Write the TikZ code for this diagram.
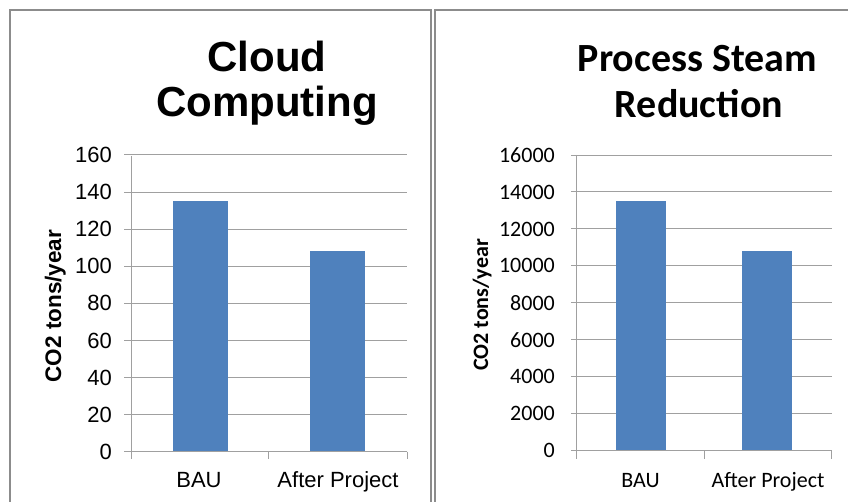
\documentclass[tikz,border=0pt]{standalone}
\usepackage{fontspec}
\setmainfont{Liberation Sans}
\newfontfamily\calibri{Carlito}
\definecolor{barblue}{HTML}{4F81BD}
\definecolor{framegray}{HTML}{8C8C8C}
\definecolor{gridgray}{HTML}{A0A0A0}
\begin{document}
\begin{tikzpicture}[x=1pt,y=-1pt,
  panelframe/.style={draw=framegray,line width=2pt},
  gridline/.style={draw=gridgray,line width=1pt},
  bar/.style={fill=barblue},
  ticklab/.style={anchor=east,inner sep=0pt,font=\fontsize{22}{26}\selectfont},
  catlab/.style={anchor=base,inner sep=0pt,font=\fontsize{22}{26}\selectfont},
  ttl/.style={anchor=base,inner sep=0pt,font=\fontsize{42}{48}\selectfont\bfseries},
  ytitle/.style={anchor=base,inner sep=0pt,rotate=90,font=\fontsize{22.5}{26}\selectfont\bfseries}]
\useasboundingbox (0,0) rectangle (848,502);
\fill[white] (0,0) rectangle (848,502);
% ---------- left panel ----------
\draw[panelframe] (9.5,520) -- (9.5,10.5) -- (430.5,10.5) -- (430.5,520);
\node[ttl] (lt1) at (267,72) {Cloud};
\node[ttl] (lt2) at (267,117) {Computing};
\foreach \k in {0,...,8}{
  \pgfmathsetmacro\yy{451.7-\k*37.09}
  \pgfmathtruncatemacro\v{\k*20}
  \draw[gridline] (124,\yy) -- (407,\yy);
  \node[ticklab] (lv\k) at (112,\yy) {\v};
}
\draw[gridline] (131,156) -- (131,459);
\draw[gridline] (268.7,451.7) -- (268.7,459);
\draw[gridline] (407,451.7) -- (407,459);
\fill[bar] (172.7,451.7) rectangle (227.7,{451.7-135*1.8544});
\fill[bar] (310,451.7) rectangle (365,{451.7-108*1.8544});
\draw[gridline] (124,451.7) -- (407,451.7);
\node[catlab] (lc1) at (199,487) {BAU};
\node[catlab] (lc2) at (338,487) {After Project};
\node[ytitle] (ly) at (61,306) {CO2 tons/year};
% ---------- right panel ----------
\draw[panelframe] (435,520) -- (435,10.5) -- (860,10.5);
\begin{scope}[ttl/.append style={font=\fontsize{40}{46}\selectfont\calibri\bfseries},
  ticklab/.append style={font=\fontsize{22}{26}\selectfont\calibri},
  catlab/.append style={font=\fontsize{22}{26}\selectfont\calibri},
  ytitle/.append style={font=\fontsize{22}{26}\selectfont\calibri\bfseries}]
\node[ttl] (rt1) at (697.5,72) {Process Steam};
\node[ttl] (rt2) at (699,118) {Reduction};
\foreach \k in {0,...,8}{
  \pgfmathsetmacro\yy{450.7-\k*36.96}
  \pgfmathtruncatemacro\v{\k*2000}
  \draw[gridline] (571,\yy) -- (831.7,\yy);
  \node[ticklab] (rv\k) at (555,\yy) {\v};
}
\draw[gridline] (576.7,155) -- (576.7,459);
\draw[gridline] (704,450.7) -- (704,459);
\draw[gridline] (831.7,450.7) -- (831.7,459);
\fill[bar] (615.7,450.7) rectangle (665.7,{450.7-13.5*18.48});
\fill[bar] (741.7,450.7) rectangle (792.3,{450.7-10.8*18.48});
\draw[gridline] (571,450.7) -- (831.7,450.7);
\node[catlab] (rc1) at (640.5,487) {BAU};
\node[catlab] (rc2) at (768,487) {After Project};
\node[ytitle] (ry) at (488,305) {CO2 tons/year};
\end{scope}
\end{tikzpicture}
\end{document}
